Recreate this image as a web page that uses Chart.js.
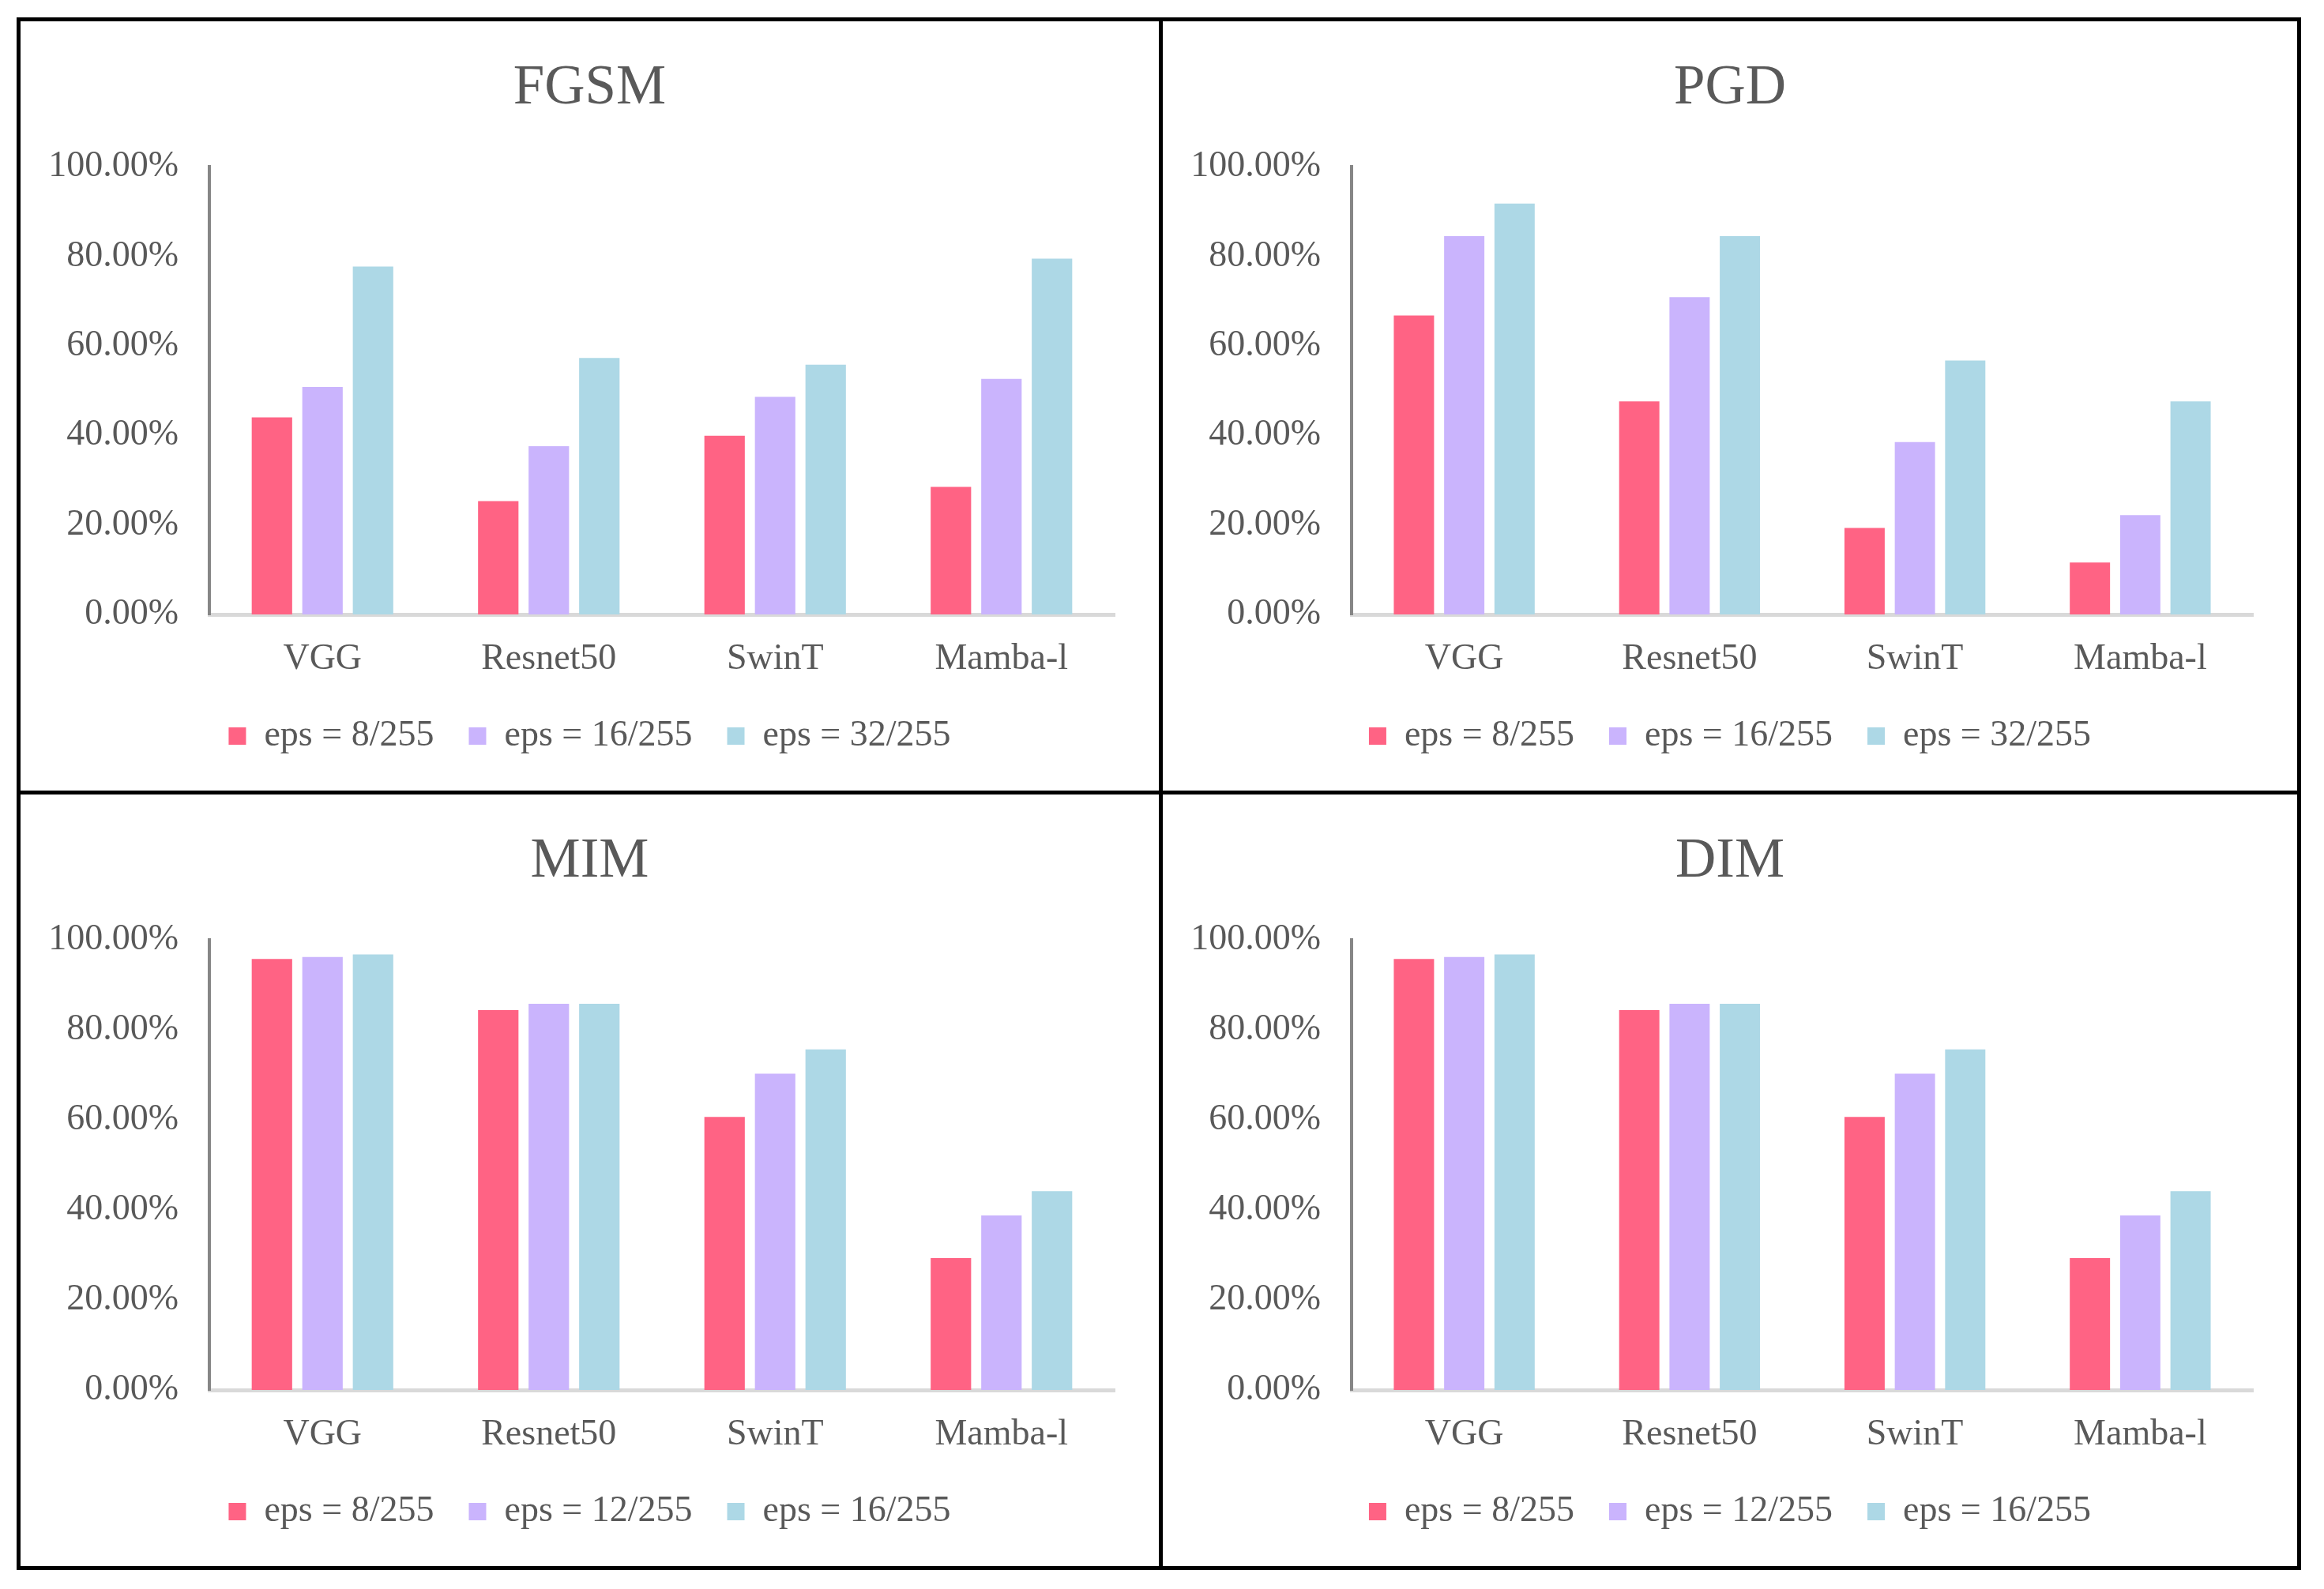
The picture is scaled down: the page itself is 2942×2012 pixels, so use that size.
<!DOCTYPE html>
<html>
<head>
<meta charset="utf-8">
<script src="https://cdn.jsdelivr.net/npm/chart.js@4.4.1/dist/chart.umd.min.js"></script>
<style>
  html, body { margin: 0; padding: 0; background: #ffffff; }
  body { width: 2942px; height: 2012px; position: relative; }
  .panel { position: absolute; box-sizing: border-box; border: 5px solid #000; background: #fff; }
  .panel canvas { display: block; }
</style>
</head>
<body>
<div class="panel" style="left:21px; top:22px; width:1451px; height:984px;"><canvas id="fgsm"></canvas></div>
<div class="panel" style="left:1467px; top:22px; width:1446px; height:984px;"><canvas id="pgd"></canvas></div>
<div class="panel" style="left:21px; top:1001px; width:1451px; height:987px;"><canvas id="mim"></canvas></div>
<div class="panel" style="left:1467px; top:1001px; width:1446px; height:987px;"><canvas id="dim"></canvas></div>
<script>
// models on the x axis
const categories = ["VGG", "Resnet50", "SwinT", "Mamba-l"];
const yTicks = [0, 20, 40, 60, 80, 100];

// legend labels
const epsLabelsA = ["eps = 8/255", "eps = 16/255", "eps = 32/255"];
const epsLabelsB = ["eps = 8/255", "eps = 12/255", "eps = 16/255"];

// attack success rate (%)
const fgsmEps8 = [44.0, 25.3, 39.9, 28.5];
const fgsmEps16 = [50.8, 37.6, 48.6, 52.6];
const fgsmEps32 = [77.7, 57.3, 55.8, 79.5];

const pgdEps8 = [66.8, 47.6, 19.3, 11.6];
const pgdEps16 = [84.5, 70.9, 38.5, 22.2];
const pgdEps32 = [91.8, 84.5, 56.7, 47.6];

const mimEps8 = [95.8, 84.4, 60.7, 29.3];
const mimEps12 = [96.2, 85.8, 70.3, 38.8];
const mimEps16 = [96.8, 85.8, 75.7, 44.2];

const dimEps8 = [95.8, 84.4, 60.7, 29.3];
const dimEps12 = [96.2, 85.8, 70.3, 38.8];
const dimEps16 = [96.8, 85.8, 75.7, 44.2];

const colors = ["#FF6384", "#CAB4FD", "#ADD8E6"];
const textColor = "#595959";
const fontFamily = "'Liberation Serif', 'Times New Roman', serif";

function makeChart(id, title, labels, series) {
  const canvas = document.getElementById(id);
  const box = canvas.parentElement;
  canvas.width = box.clientWidth;
  canvas.height = box.clientHeight;

  return new Chart(canvas, {
    type: "bar",
    data: {
      labels: categories,
      datasets: series.map((values, i) => ({
        label: labels[i],
        data: values,
        backgroundColor: colors[i],
        borderWidth: 0,
        categoryPercentage: 0.67,
        barPercentage: 0.8,
      })),
    },
    options: {
      responsive: false,
      animation: false,
      devicePixelRatio: 1,
      layout: { padding: { left: 0, right: 0, top: 0, bottom: 36 } },
      plugins: {
        title: {
          display: true,
          text: title,
          color: textColor,
          font: { family: fontFamily, size: 71, weight: "normal", lineHeight: 1.2 },
          padding: { top: 43, bottom: 56 },
        },
        legend: {
          position: "bottom",
          labels: {
            color: textColor,
            font: { family: fontFamily, size: 46 },
            boxWidth: 22,
            boxHeight: 22,
            padding: 44,
          },
        },
        tooltip: { enabled: false },
      },
      scales: {
        x: {
          grid: { display: false },
          border: { display: true, color: "#D9D9D9", width: 5 },
          ticks: {
            color: textColor,
            font: { family: fontFamily, size: 46 },
            padding: 21,
          },
          afterFit(scale) {
            scale.height = 87;
          },
        },
        y: {
          min: 0,
          max: 100,
          afterBuildTicks(scale) {
            scale.ticks = yTicks.map((v) => ({ value: v }));
          },
          grid: { display: false, drawTicks: false },
          border: { display: true, color: "#868686", width: 4 },
          ticks: {
            color: textColor,
            font: { family: fontFamily, size: 46 },
            padding: 39,
            callback: (v) => v.toFixed(2) + "%",
          },
          afterFit(scale) {
            scale.width = 239;
          },
        },
        // empty axis on the right, only keeps the plot off the panel edge
        yRight: {
          position: "right",
          display: true,
          grid: { display: false, drawTicks: false },
          border: { display: false },
          ticks: { display: false },
          afterFit(scale) {
            scale.width = 56;
          },
        },
      },
    },
  });
}

makeChart("fgsm", "FGSM", epsLabelsA, [fgsmEps8, fgsmEps16, fgsmEps32]);
makeChart("pgd", "PGD", epsLabelsA, [pgdEps8, pgdEps16, pgdEps32]);
makeChart("mim", "MIM", epsLabelsB, [mimEps8, mimEps12, mimEps16]);
makeChart("dim", "DIM", epsLabelsB, [dimEps8, dimEps12, dimEps16]);
</script>
</body>
</html>
